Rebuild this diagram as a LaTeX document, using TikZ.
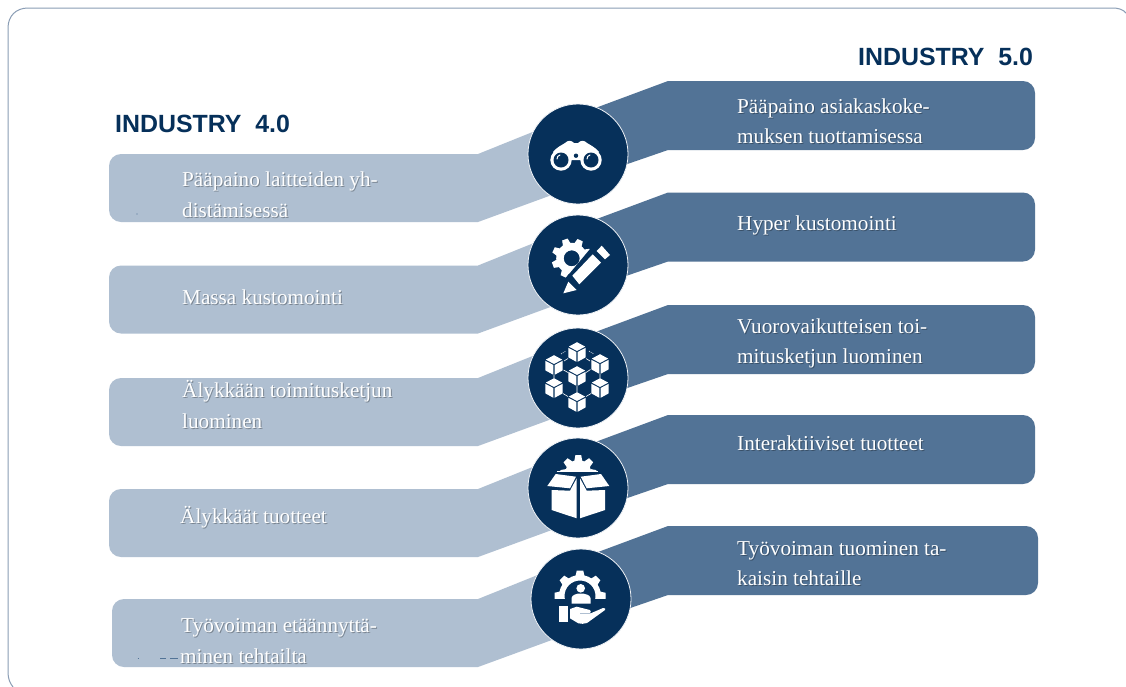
\documentclass[tikz,border=0pt]{standalone}
\usepackage{fontspec}
\setmainfont{Liberation Serif}
\newfontfamily\titlefont{Liberation Sans}
\definecolor{navy}{HTML}{06305A}
\definecolor{darkrib}{HTML}{527396}
\definecolor{lightrib}{HTML}{AFBFD1}
\definecolor{framecol}{HTML}{8A9DB5}
\tikzset{
  ribbonL/.style={fill=lightrib,draw=none},
  ribbonR/.style={fill=darkrib,draw=none},
  disc/.style={circle,fill=navy,draw=white!80!lightrib,line width=0.8pt,minimum size=100pt,inner sep=0pt},
  icon/.style={fill=white,draw=none},
  halo/.style={fill=navy,draw=none},
  titletext/.style={text=navy,font=\titlefont\bfseries\fontsize{24.9}{28}\selectfont,anchor=base west,inner sep=0pt},
  bodytext/.style={anchor=base west,inner sep=0pt,font=\fontsize{21.2}{24}\selectfont},
}
\newcommand{\shadowtext}[4]{%
  \node[bodytext,text=black,text opacity=.3] (#1s) at (#2+1,#3+1) {#4};
  \node[bodytext,text=white] (#1) at (#2,#3) {#4};}
\newcommand{\leftrib}[2]{%
  \fill[ribbonL] (560,#1+38) -- (478,#1+68) [rounded corners=12pt] -- (#2,#1+68) -- (#2,#1) [sharp corners] -- (478,#1) -- (545,#1-27) -- cycle;}
\newcommand{\rightrib}[2]{%
  \fill[ribbonR] (590,#1+29) -- (668,#1) [rounded corners=12pt] -- (#2,#1) -- (#2,#1+69) [sharp corners] -- (668,#1+69) -- (610,#1+89) -- cycle;}
% gear: cx, cy, root radius, tooth height, teeth, tooth half width, hole, rotation
\newcommand{\gear}[8]{%
  \fill[icon,even odd rule] (#1,#2) circle[radius=#3] (#1,#2) circle[radius=#7];
  \foreach \a in {1,...,#5}{
    \pgfmathsetmacro{\ang}{360/#5*\a+#8}
    \fill[icon,rotate around={\ang:(#1,#2)}] (#1-#6,#2-#3+1) -- (#1-#6*.72,#2-#3-#4) -- (#1+#6*.72,#2-#3-#4) -- (#1+#6,#2-#3+1) -- cycle;
  }}
\newcommand{\cube}[2]{%
  \begin{scope}[shift={(#1,#2)}]
   \fill[icon] (0,-9.8) -- (8.2,-5.4) -- (0,-1) -- (-8.2,-5.4) -- cycle;
   \fill[icon] (-8.6,-4.2) -- (-.6,0) -- (-.6,9.8) -- (-8.6,5.4) -- cycle;
   \fill[icon] (8.6,-4.2) -- (.6,0) -- (.6,9.8) -- (8.6,5.4) -- cycle;
  \end{scope}}
\begin{document}
\begin{tikzpicture}[x=1pt,y=-1pt,line join=round]
\useasboundingbox (0,0) rectangle (1126,686);
\fill[white] (0,0) rectangle (1126,686);
\draw[framecol,line width=1pt] (13,687) .. controls (10,683) and (8,679) .. (8,672) -- (8,28)
  .. controls (8,16) and (16,8) .. (28,8) -- (1112,8) .. controls (1118,8) and (1123,9) .. (1127,14);
% ribbons
\foreach \t in {154,265.5,378,489}{\leftrib{\t}{109}}
\leftrib{599}{112}
\foreach \t in {81,192.5,305,415}{\rightrib{\t}{1035}}
\rightrib{526}{1038}
% discs
\node[disc] (d1) at (578,154) {};
\node[disc] (d2) at (578,265) {};
\node[disc] (d3) at (578,378) {};
\node[disc] (d4) at (578,488) {};
\node[disc] (d5) at (581,599) {};
% titles
\node[titletext] (t1) at (115,132) {INDUSTRY\ \ 4.0};
\node[titletext] (t2) at (858,65) {INDUSTRY\ \ 5.0};
% left text
\shadowtext{a1}{182}{186}{Pääpaino laitteiden yh-}
\shadowtext{a2}{182}{217}{distämisessä}
\shadowtext{a3}{182}{304}{Massa kustomointi}
\shadowtext{a4}{182}{397}{Älykkään toimitusketjun}
\shadowtext{a5}{182}{428}{luominen}
\shadowtext{a6}{180}{523}{Älykkäät tuotteet}
\shadowtext{a7}{181}{632}{Työvoiman etäännyttä-}
\shadowtext{a8}{180}{663}{minen tehtailta}
% right text
\shadowtext{b1}{737}{113}{Pääpaino asiakaskoke-}
\shadowtext{b2}{737}{143}{muksen tuottamisessa}
\shadowtext{b3}{737}{230}{Hyper kustomointi}
\shadowtext{b4}{737}{333}{Vuorovaikutteisen toi-}
\shadowtext{b5}{737}{363}{mitusketjun luominen}
\shadowtext{b6}{737}{450}{Interaktiiviset tuotteet}
\shadowtext{b7}{737}{555}{Työvoiman tuominen ta-}
\shadowtext{b8}{737}{585}{kaisin tehtaille}
% specks
\fill[darkrib] (137,214) circle[radius=.6];
\draw[darkrib,line width=.5pt] (137.5,658)--(139,658) (160,658)--(166,658) (170,658)--(178,658);
% binoculars
\fill[icon] (553,152) .. controls (557,147) and (562,145) .. (565,143) .. controls (568,140) and (571,140) .. (574,143)
 -- (578,143) .. controls (581,140) and (584,140) .. (587,143) .. controls (590,145) and (595,147) .. (599,152) -- (590,160) -- (562,160) -- cycle;
\fill[icon] (561,160) circle[radius=10.7] (591,160) circle[radius=10.7];
\fill[navy] (561,160) circle[radius=7.5] (591,160) circle[radius=7.5] (576,155.7) circle[radius=2.2];
\draw[white,line width=1pt,line cap=round] (557,159) .. controls (557,157) and (558,155.5) .. (560,155)  (587,159) .. controls (587,157) and (588,155.5) .. (590,155);
% gear + pencil
\gear{571.7}{258.3}{15.5}{4.5}{8}{4}{8}{20}
\fill[halo] (590,249) -- (610,268.3) -- (580,296.7) -- (560,296.7) -- (560,285) -- (568.3,275) -- cycle;
\fill[icon] (592.7,254.3) -- (601,262.7) -- (579.3,284.3) -- (572.3,275.7) -- cycle;
\fill[icon] (601.7,245.7) -- (610,255) -- (605,259.3) -- (596.7,251) -- cycle;
\fill[icon] (563.3,293.3) -- (568.3,281.7) -- (576.7,290) -- cycle;
% cubes
\foreach \p/\q in {577/352,554/365,600/364,577/376,554/388,600/388,577/402}{\cube{\p}{\q}}
\draw[white,line width=.6pt] (564,361)--(568,358.5) (590,361)--(586,358.5) (563.5,370)--(568,372.5) (590.5,369.5)--(586,372.5)
 (554,375)--(554,378) (600,374)--(600,378) (577,386)--(577,392) (563,393.5)--(568,396.5) (591,393.5)--(586,396.5);
\draw[white,line width=.6pt,dash pattern=on 1pt off 1pt] (561,354)--(566,351) (589,351)--(594,354);
% box + gear
\begin{scope}
\clip (540,450) rectangle (616,471);
\gear{578.3}{473}{13}{5}{8}{4}{0}{0}
\end{scope}
\draw[white,line width=.8pt] (556.7,471.6)--(598,471.6);
\fill[icon] (555.7,474) -- (576,476.7) -- (570,488.3) -- (547.3,486) -- cycle;
\fill[icon] (601,474) -- (580.7,476.7) -- (586.7,488.3) -- (609.3,486) -- cycle;
\fill[icon] (551.7,490) -- (570,490.7) -- (576.7,478.3) -- (576.7,518.3) -- (551.7,510) -- cycle;
\fill[icon] (605,490) -- (586.7,490.7) -- (580,478.3) -- (580,518.3) -- (605,510) -- cycle;
% hand + gear + person
\begin{scope}
\clip (545,560) rectangle (621,598);
\gear{580}{596}{21}{4.5}{8}{4.5}{15.5}{0}
\end{scope}
\fill[icon] (555,594) rectangle (563,598) (597,594) rectangle (605,598);
\fill[icon] (580.7,588.3) circle[radius=4.3];
\fill[icon] (571.5,603.5) -- (571.5,598) .. controls (572,595) and (576,594) .. (578,593.5) -- (583,593.5) .. controls (586,594) and (590,595) .. (590.5,598) -- (590.5,603.5) -- cycle;
\fill[icon] (559,606) rectangle (567.7,621.7);
\fill[icon] (570,609) -- (576.7,606.7) -- (590,610) .. controls (591,611) and (591,612) .. (590,613.3) -- (588,614.5) -- (603,608) .. controls (605,607.5) and (606,609) .. (605,610) -- (587,623) .. controls (584,624) and (581,624) .. (578.3,623.3) -- (570,618.3) -- cycle;
\draw[lightrib,line width=.5pt] (580,613.5)--(590,613.5);
\end{tikzpicture}
\end{document}
